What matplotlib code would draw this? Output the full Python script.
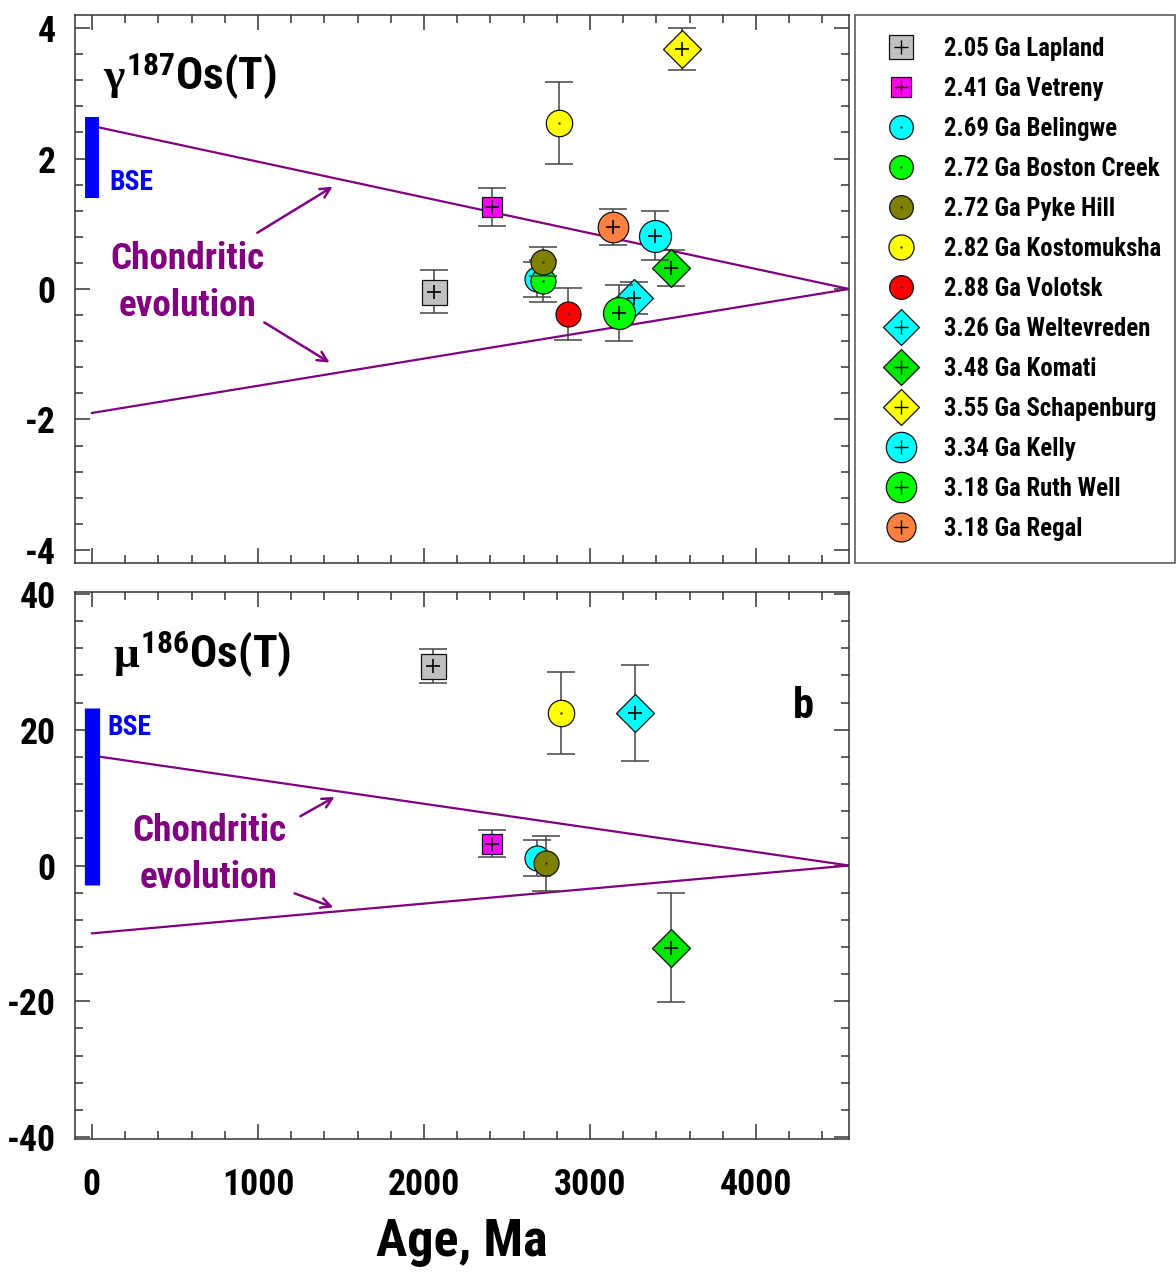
import numpy as np
import matplotlib
matplotlib.use('Agg')
import matplotlib.pyplot as plt
from matplotlib.lines import Line2D
from matplotlib.legend_handler import HandlerTuple
from matplotlib.ticker import MultipleLocator
from matplotlib import font_manager as fm

# ---------------- data ----------------
labels = ['2.05 Ga Lapland', '2.41 Ga Vetreny', '2.69 Ga Belingwe', '2.72 Ga Boston Creek',
          '2.72 Ga Pyke Hill', '2.82 Ga Kostomuksha', '2.88 Ga Volotsk', '3.26 Ga Weltevreden',
          '3.48 Ga Komati', '3.55 Ga Schapenburg', '3.34 Ga Kelly', '3.18 Ga Ruth Well',
          '3.18 Ga Regal']
age_gamma = [2060, 2410, 2680, 2717, 2717, 2813, 2867, 3265, 3488, 3554, 3392, 3175, 3139]
gamma = [-0.04, 1.26, 0.15, 0.12, 0.42, 2.55, -0.38, -0.14, 0.32, 3.68, 0.82, -0.37, 0.95]
gamma_err = [0.33, 0.29, 0.27, 0.32, 0.22, 0.63, 0.40, 0.25, 0.28, 0.32, 0.37, 0.43, 0.28]
nan = np.nan
age_mu = [2054, 2410, 2680, nan, 2733, 2825, nan, 3270, 3488, nan, nan, nan, nan]
mu = [29.4, 3.2, 1.1, nan, 0.3, 22.45, nan, 22.5, -12.1, nan, nan, nan, nan]
mu_err = [2.45, 2.0, 2.7, nan, 4.1, 6.0, nan, 7.1, 8.0, nan, nan, nan, nan]

bse_gamma = [1.40, 2.64]
bse_mu = [-2.9, 23.2]
chondrite_gamma = [2.5, -1.9]   # present-day values, converging to 0 at Earth formation
chondrite_mu = [16.2, -10.0]
earth_age = 4560

# ---------------- fonts ----------------
names = {f.name for f in fm.fontManager.ttflist}
pref = ['Liberation Sans Narrow', 'Arial Narrow', 'Roboto Condensed', 'Open Sans Condensed',
        'Noto Sans Condensed', 'DejaVu Sans Condensed', 'Noto Sans Display Condensed']
FAM, STRETCH = None, 'normal'
for n in pref:
    if n in names:
        FAM = n
        break
if FAM is None:
    others = sorted(n for n in names if ('Narrow' in n or 'Condensed' in n))
    if others:
        FAM = others[0]
if FAM is None:
    for base in ['Roboto', 'Open Sans', 'Noto Sans', 'DejaVu Sans', 'Liberation Sans']:
        hit = [f for f in fm.fontManager.ttflist if f.name == base and
               (str(f.stretch) in ('condensed', 'semi-condensed', 'extra-condensed',
                                   'ultra-condensed')
                or (isinstance(f.stretch, (int, float)) and f.stretch < 500))]
        if hit:
            FAM, STRETCH = base, hit[0].stretch
            break
if FAM is None:
    FAM = 'Liberation Sans'

plt.rcParams['font.family'] = [FAM, 'Liberation Sans', 'DejaVu Sans']
plt.rcParams['font.stretch'] = STRETCH
plt.rcParams['font.weight'] = 'bold'
plt.rcParams['axes.unicode_minus'] = False
plt.rcParams['mathtext.fontset'] = 'custom'
plt.rcParams['mathtext.rm'] = FAM + ':bold'
plt.rcParams['mathtext.it'] = 'Liberation Serif'

# ---------------- styles ----------------
colors = ['#c0c0c0', '#ff00ff', '#00ffff', '#00ff00', '#808000', '#ffff00', '#ff0000',
          '#00ffff', '#00e600', '#ffff00', '#00ffff', '#00ff00', '#ff8040']
markers = ['s', 's', 'o', 'o', 'o', 'o', 'o', 'D', 'D', 'D', 'o', 'o', 'o']
msizes = [18, 15, 18, 18, 18, 19, 18, 19.5, 19.5, 19.5, 23, 23, 22]
crosses = [True, True, False, False, False, False, False, True, True, True, True, True, True]
PURPLE = '#800080'
BLUE = '#0000ff'

W, H = 1176, 1282
fig = plt.figure(figsize=(W / 100, H / 100), dpi=100)

# scale font sizes so text widths match the reference (legend entry ~160 px wide)
_r = fig.canvas.get_renderer()
_t = fig.text(0, 0, '2.05 Ga Lapland', fontsize=18, fontweight='bold')
SC = 160.0 / _t.get_window_extent(_r).width
_t.remove()
SC = min(SC, 1.05)


def fs(x):
    return x * SC


def fbox(x0, y0, x1, y1):
    return [x0 / W, 1 - y1 / H, (x1 - x0) / W, (y1 - y0) / H]


ax1 = fig.add_axes(fbox(75, 15, 849, 563))
ax2 = fig.add_axes(fbox(75, 592, 849, 1139))


def draw_points(ax, ages, vals, errs):
    for i in range(len(labels)):
        if np.isnan(vals[i]):
            continue
        z = 4 + 3 * i
        ax.errorbar([ages[i]], [vals[i]], yerr=[errs[i]], fmt='none', ecolor='#444444',
                    elinewidth=1.1, capsize=10, capthick=1.1, zorder=z)
        ax.plot([ages[i]], [vals[i]], linestyle='none', marker=markers[i], ms=msizes[i],
                mfc=colors[i], mec='#111111', mew=0.9, zorder=z + 1)
        if crosses[i]:
            ax.plot([ages[i]], [vals[i]], linestyle='none', marker='+', ms=10, color='k',
                    mew=1.2, zorder=z + 2)
        else:
            ax.plot([ages[i]], [vals[i]], linestyle='none', marker='.', ms=1.5,
                    color='#333333', zorder=z + 2)


def style_axes(ax, major, minor, ylim):
    ax.set_xlim(-102, 4560)
    ax.set_ylim(*ylim)
    ax.xaxis.set_major_locator(MultipleLocator(1000))
    ax.xaxis.set_minor_locator(MultipleLocator(200))
    ax.yaxis.set_major_locator(MultipleLocator(major))
    ax.yaxis.set_minor_locator(MultipleLocator(minor))
    ax.tick_params(which='both', direction='in', top=True, right=True, width=1.1,
                   colors='#333333', labelcolor='black', labelsize=fs(26))
    ax.tick_params(which='major', length=11)
    ax.tick_params(which='minor', length=6)
    ax.tick_params(axis='y', pad=14)
    ax.tick_params(axis='x', pad=20)
    for s in ax.spines.values():
        s.set_color('#333333')
        s.set_linewidth(1.1)


arr = dict(arrowstyle='->,head_length=0.7,head_width=0.35', color=PURPLE, lw=1.8)

# ---------- top panel ----------
style_axes(ax1, 2, 0.4, (-4.2, 4.2))
ax1.tick_params(axis='x', labelbottom=False)
ax1.plot([0, earth_age], [chondrite_gamma[0], 0], color=PURPLE, lw=1.6, zorder=2)
ax1.plot([0, earth_age], [chondrite_gamma[1], 0], color=PURPLE, lw=1.6, zorder=2)
ax1.vlines(0, bse_gamma[0], bse_gamma[1], color=BLUE, lw=10, zorder=3)
draw_points(ax1, age_gamma, gamma, gamma_err)
ax1.text(66, 3.05, r'$\gamma^{187}$Os(T)', fontsize=fs(33), fontweight='bold',
         va='baseline', ha='left')
ax1.text(108, 1.63, 'BSE', color=BLUE, fontsize=fs(20), fontweight='bold', va='center')
ax1.text(578, 0.10, 'Chondritic\nevolution', color=PURPLE, fontsize=fs(27),
         fontweight='bold', ha='center', va='center', linespacing=1.38)
ax1.annotate('', xy=(1464, 1.59), xytext=(982, 0.84), arrowprops=arr)
ax1.annotate('', xy=(1446, -1.15), xytext=(1024, -0.49), arrowprops=arr)

# ---------- bottom panel ----------
style_axes(ax2, 20, 4, (-40.3, 40.3))
ax2.plot([0, earth_age], [chondrite_mu[0], 0], color=PURPLE, lw=1.6, zorder=2)
ax2.plot([0, earth_age], [chondrite_mu[1], 0], color=PURPLE, lw=1.6, zorder=2)
ax2.vlines(0, bse_mu[0], bse_mu[1], color=BLUE, lw=11, zorder=3)
draw_points(ax2, age_mu, mu, mu_err)
ax2.text(127, 29.1, r'$\mu^{186}$Os(T)', fontsize=fs(33), fontweight='bold',
         va='baseline', ha='left')
ax2.text(96, 20.4, 'BSE', color=BLUE, fontsize=fs(20), fontweight='bold', va='center')
ax2.text(705, 1.6, 'Chondritic\nevolution', color=PURPLE, fontsize=fs(27),
         fontweight='bold', ha='center', va='center', linespacing=1.38)
ax2.annotate('', xy=(1476, 10.3), xytext=(1241, 7.06), arrowprops=arr)
ax2.annotate('', xy=(1470, -6.3), xytext=(1205, -3.97), arrowprops=arr)
ax2.text(4283, 23.4, 'b', fontsize=fs(31), fontweight='bold', ha='center', va='center')
ax2.set_xlabel('Age, Ma', fontsize=fs(38), fontweight='bold', labelpad=10)

# ---------- legend ----------
handles = []
for i in range(len(labels)):
    m = Line2D([], [], linestyle='none', marker=markers[i], ms=msizes[i] * 0.95,
               mfc=colors[i], mec='#111111', mew=0.9)
    if crosses[i]:
        c = Line2D([], [], linestyle='none', marker='+', ms=10, color='k', mew=1.0)
    else:
        c = Line2D([], [], linestyle='none', marker='.', ms=1.5, color='#333333')
    handles.append((m, c))
LFS = fs(18)
lpx = LFS * 100 / 72.0
n_rows = len(labels)


def make_legend(bp_px, sep_px):
    hl = 2 * (46 - bp_px)          # handle centred ~46 px from the frame
    htp = 89 - bp_px - hl           # text starts ~89 px from the frame
    lg = fig.legend(handles, labels, handler_map={tuple: HandlerTuple(ndivide=1)},
                    loc='upper left', bbox_to_anchor=fbox(855, 15, 1175, 563), mode='expand',
                    borderaxespad=0, fontsize=LFS, frameon=True, fancybox=False,
                    edgecolor='#222222', borderpad=bp_px / lpx, handlelength=hl / lpx,
                    handleheight=0.7, handletextpad=htp / lpx, labelspacing=sep_px / lpx)
    lg.get_frame().set_linewidth(1.1)
    return lg


# measure the natural row height, then set spacing for a 40 px pitch in a 548 px frame
leg = make_legend(14, 0)
fig.canvas.draw()
hgt = leg.get_window_extent(fig.canvas.get_renderer()).height
row0 = (hgt - 28) / n_rows
leg.remove()
sep = max(40 - row0, 0)
bp = max((548 - n_rows * row0 - (n_rows - 1) * sep) / 2, 4)
leg = make_legend(bp, sep)

fig.savefig('out.png', dpi=100)
